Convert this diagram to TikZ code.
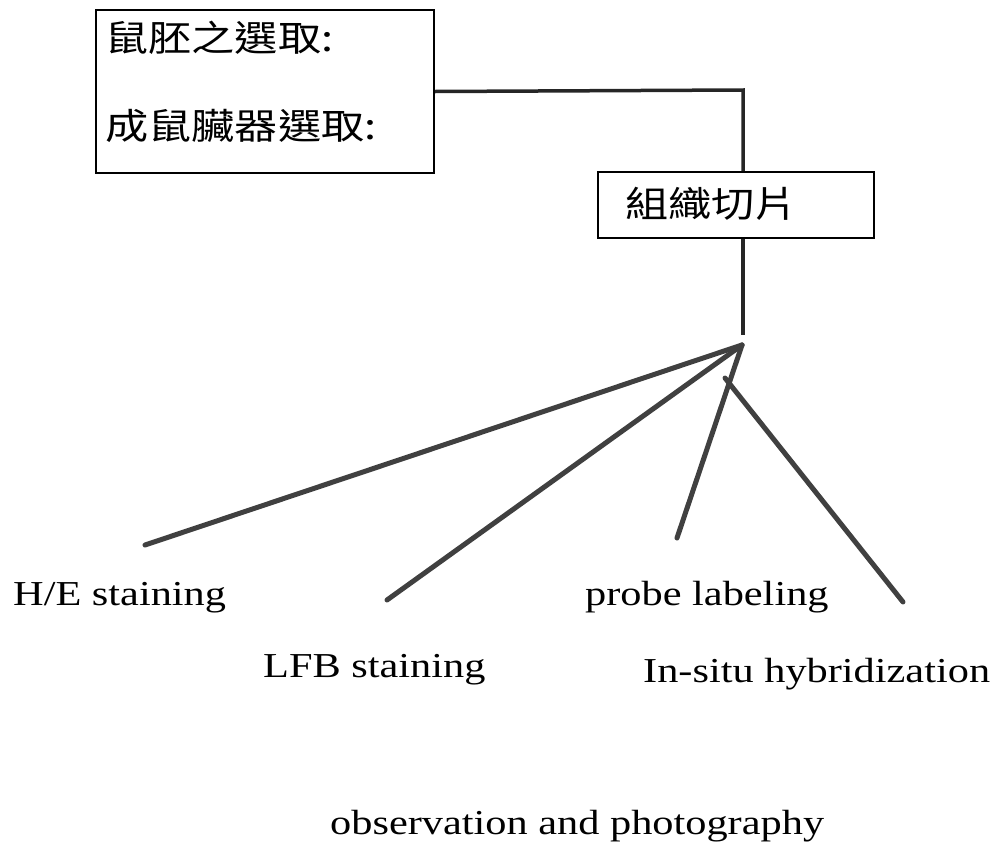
\documentclass[tikz,border=0pt]{standalone}
\usepackage{fontspec}
\setmainfont[FakeStretch=1.21]{Liberation Serif}
\newfontfamily\cjk[FakeStretch=1.2]{Noto Sans CJK TC}
\begin{document}
\begin{tikzpicture}[x=1pt,y=-1pt,
  box/.style={draw=black, line width=2pt, inner sep=0pt},
  lbl/.style={inner sep=0pt, anchor=base west, font=\fontsize{35}{40}\selectfont},
  cj/.style={inner sep=0pt, anchor=base west, font=\cjk\fontsize{36}{40}\selectfont},
  conn/.style={line width=3.5pt, black!85},
  fan/.style={line width=5pt, black!75, line cap=round}]
\useasboundingbox (0,0) rectangle (992,854);
% boxes
\node[box, anchor=north west, minimum width=338pt, minimum height=163pt] (b1) at (95,9) {};
\node[cj] (t1) at (105,51) {鼠胚之選取:};
\node[cj] (t2) at (105,139) {成鼠臟器選取:};
\node[box, anchor=north west, minimum width=276pt, minimum height=66pt] (b2) at (597,171) {};
\node[cj] (t3) at (625,217) {組織切片};
% connectors
\coordinate (j) at (743,90);
\draw[conn] (b1.east) -- (j) -- (j |- b2.north);
\coordinate (a0) at (743,335);
\draw[conn] (b2.south -| a0) -- (a0);
\coordinate (apex) at (742,345);
\coordinate (eHE) at (145,545);
\coordinate (eLFB) at (387,600);
\coordinate (eP) at (677,538);
\coordinate (sI) at (725,378);
\coordinate (eI) at (903,602);
\draw[fan] (apex) -- (eHE);
\draw[fan] (apex) -- (eLFB);
\draw[fan] (apex) -- (eP);
\draw[fan] (sI) -- (eI);
% labels
\node[lbl] (he) at (13,605) {H/E staining};
\node[lbl] (lfb) at (263,677) {LFB staining};
\node[lbl] (pl) at (585,605) {probe labeling};
\node[lbl] (ish) at (643,682) {In-situ hybridization};
\node[lbl] (obs) at (330,834) {observation and photography};
\end{tikzpicture}
\end{document}
